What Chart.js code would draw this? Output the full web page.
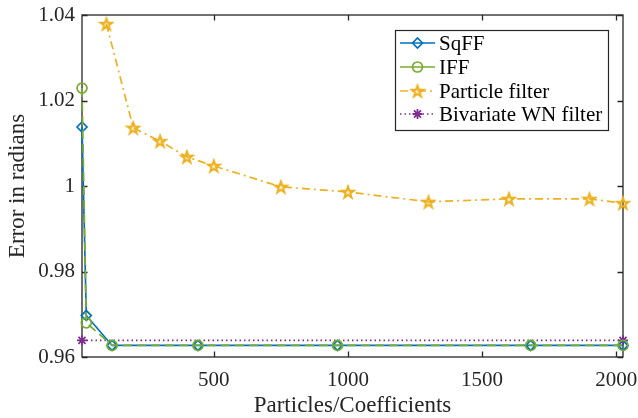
<!DOCTYPE html>
<html><head><meta charset="utf-8">
<script src="https://cdn.jsdelivr.net/npm/chart.js@4/dist/chart.umd.min.js"></script>
<style>html,body{margin:0;padding:0;background:#fff}#wrap{width:638px;height:418px;position:relative}</style>
</head><body><div id="wrap"><canvas id="c"></canvas></div>
<script>
const coeffX = [9, 25, 121, 441, 961, 1681, 2025];
const sqffY = [1.0138, 0.9697, 0.9627, 0.9627, 0.9627, 0.9627, 0.9627];
const iffY = [1.0229, 0.9680, 0.9627, 0.9627, 0.9627, 0.9627, 0.9627];
const particleX = [100, 200, 300, 400, 500, 750, 1000, 1300, 1600, 1900, 2025];
const particleY = [1.0379, 1.0136, 1.0105, 1.0068, 1.0047, 0.9998, 0.9986, 0.9963, 0.9970, 0.9970, 0.9960];
const wnX = [9, 2025];
const wnY = [0.9639, 0.9639];
const xTicks = [500, 1000, 1500, 2000];
const yTicks = [0.96, 0.98, 1.00, 1.02, 1.04];
const seriesNames = ['SqFF', 'IFF', 'Particle filter', 'Bivariate WN filter'];

const FONT = '"Liberation Serif", "DejaVu Serif", serif';
const AX = '#262626';
const C_BLUE = '#0072BD', C_GREEN = '#77AC30', C_YEL = '#EDB120', C_PUR = '#7E2F8E';

function pts(xs, ys) { return xs.map((x, i) => ({x: x, y: ys[i]})); }

function makePentagram(color) {
  const s = 16, cv = document.createElement('canvas');
  cv.width = s; cv.height = s;
  const g = cv.getContext('2d');
  const R = 6.0, r = R * 0.40, cx = s / 2, cy = s / 2 + 0.6;
  g.beginPath();
  for (let i = 0; i < 10; i++) {
    const rad = i % 2 === 0 ? R : r;
    const a = -Math.PI / 2 + i * Math.PI / 5;
    const px = cx + rad * Math.cos(a), py = cy + rad * Math.sin(a);
    if (i === 0) g.moveTo(px, py); else g.lineTo(px, py);
  }
  g.closePath();
  g.fillStyle = 'rgba(237,177,32,0.2)';
  g.fill();
  g.strokeStyle = color; g.lineWidth = 2; g.lineJoin = 'miter';
  g.stroke();
  return cv;
}
const starImg = makePentagram(C_YEL);

const datasets = [
  {label: seriesNames[0], data: pts(coeffX, sqffY), borderColor: C_BLUE, borderWidth: 1.7,
   pointStyle: 'rectRot', pointRadius: 5, pointBorderWidth: 1.7, pointBackgroundColor: 'rgba(0,0,0,0)',
   pointBorderColor: C_BLUE, fill: false, tension: 0, clip: false, order: 3},
  {label: seriesNames[1], data: pts(coeffX, iffY), borderColor: C_GREEN, borderWidth: 1.7, borderDash: [9, 5],
   pointStyle: 'circle', pointRadius: 5, pointBorderWidth: 1.7, pointBackgroundColor: 'rgba(0,0,0,0)',
   pointBorderColor: C_GREEN, fill: false, tension: 0, clip: false, order: 2},
  {label: seriesNames[2], data: pts(particleX, particleY), borderColor: C_YEL, borderWidth: 1.7, borderDash: [8, 4, 2, 4],
   pointStyle: starImg, pointRadius: 6, fill: false, tension: 0, clip: false, order: 1},
  {label: seriesNames[3], data: pts(wnX, wnY), borderColor: C_PUR, borderWidth: 1.7, borderDash: [1.5, 3],
   pointStyle: 'star', pointRadius: 5, pointBorderWidth: 1.8, pointBorderColor: C_PUR,
   fill: false, tension: 0, clip: false, order: 4}
];

const axesPlugin = {
  id: 'matlabAxes',
  beforeDatasetsDraw(chart) {
    const {ctx, chartArea: a, scales} = chart;
    ctx.save();
    ctx.strokeStyle = AX; ctx.lineWidth = 1.3;
    ctx.strokeRect(a.left, a.top, a.right - a.left, a.bottom - a.top);
    const tl = 5.5;
    ctx.beginPath();
    xTicks.forEach(v => {
      const x = Math.round(scales.x.getPixelForValue(v)) + 0.5;
      ctx.moveTo(x, a.bottom); ctx.lineTo(x, a.bottom - tl);
      ctx.moveTo(x, a.top); ctx.lineTo(x, a.top + tl);
    });
    yTicks.forEach(v => {
      const y = Math.round(scales.y.getPixelForValue(v)) + 0.5;
      ctx.moveTo(a.left, y); ctx.lineTo(a.left + tl, y);
      ctx.moveTo(a.right, y); ctx.lineTo(a.right - tl, y);
    });
    ctx.stroke();
    ctx.restore();
  },
  afterDraw(chart) {
    const {ctx} = chart;
    const L = 395, T = 30, W = 213, H = 100;
    ctx.save();
    ctx.fillStyle = '#fff';
    ctx.fillRect(L, T, W, H);
    ctx.strokeStyle = AX; ctx.lineWidth = 1.2;
    ctx.strokeRect(L + 0.5, T + 0.5, W, H);
    const rows = [43, 67, 91, 114];
    ctx.font = '21px ' + FONT;
    ctx.textBaseline = 'middle';
    datasets.forEach((d, i) => {
      const y = rows[i];
      ctx.save();
      ctx.strokeStyle = d.borderColor; ctx.lineWidth = 1.7;
      ctx.setLineDash(i === 1 ? [] : (d.borderDash || []));
      ctx.beginPath(); ctx.moveTo(400, y); ctx.lineTo(435, y); ctx.stroke();
      ctx.setLineDash([]);
      const opts = {pointStyle: d.pointStyle, radius: d.pointRadius, rotation: 0,
        borderWidth: d.pointBorderWidth || 1.7, borderColor: d.pointBorderColor || d.borderColor,
        backgroundColor: 'rgba(0,0,0,0)'};
      ctx.strokeStyle = opts.borderColor; ctx.lineWidth = opts.borderWidth; ctx.fillStyle = 'rgba(0,0,0,0)';
      Chart.helpers.drawPoint(ctx, opts, 417.5, y);
      ctx.restore();
      ctx.fillStyle = '#000';
      ctx.fillText(d.label, 439, y + 1);
    });
    ctx.restore();
  }
};

new Chart(document.getElementById('c'), {
  type: 'line',
  data: {datasets: datasets},
  options: {
    responsive: true, maintainAspectRatio: false, animation: false,
    layout: {padding: {top: 15, right: 15, left: 0, bottom: 0}},
    plugins: {legend: {display: false}, tooltip: {enabled: false}},
    scales: {
      x: {
        type: 'linear', min: 9, max: 2025,
        afterBuildTicks(s) { s.ticks = xTicks.map(v => ({value: v})); },
        afterFit(s) { s.height = 61; s.paddingRight = 0; s.paddingLeft = 0; },
        grid: {display: false, drawTicks: false}, border: {display: false},
        ticks: {color: AX, font: {family: FONT, size: 21}, padding: 11, maxRotation: 0, autoSkip: false,
          callback: v => String(v)},
        title: {display: true, text: 'Particles/Coefficients', color: AX,
          font: {family: FONT, size: 23, lineHeight: 1.05}, padding: {top: 0, bottom: 0}}
      },
      y: {
        type: 'linear', min: 0.96, max: 1.04,
        afterBuildTicks(s) { s.ticks = yTicks.map(v => ({value: v})); },
        afterFit(s) { s.width = 82; s.paddingTop = 0; s.paddingBottom = 0; },
        grid: {display: false, drawTicks: false}, border: {display: false},
        ticks: {color: AX, font: {family: FONT, size: 21}, padding: 7,
          callback: v => (Math.abs(v - 1) < 1e-9 ? '1' : String(Math.round(v * 100) / 100))},
        title: {display: true, text: 'Error in radians', color: AX,
          font: {family: FONT, size: 23}, padding: {top: 4, bottom: 0}}
      }
    }
  },
  plugins: [axesPlugin]
});
</script></body></html>
